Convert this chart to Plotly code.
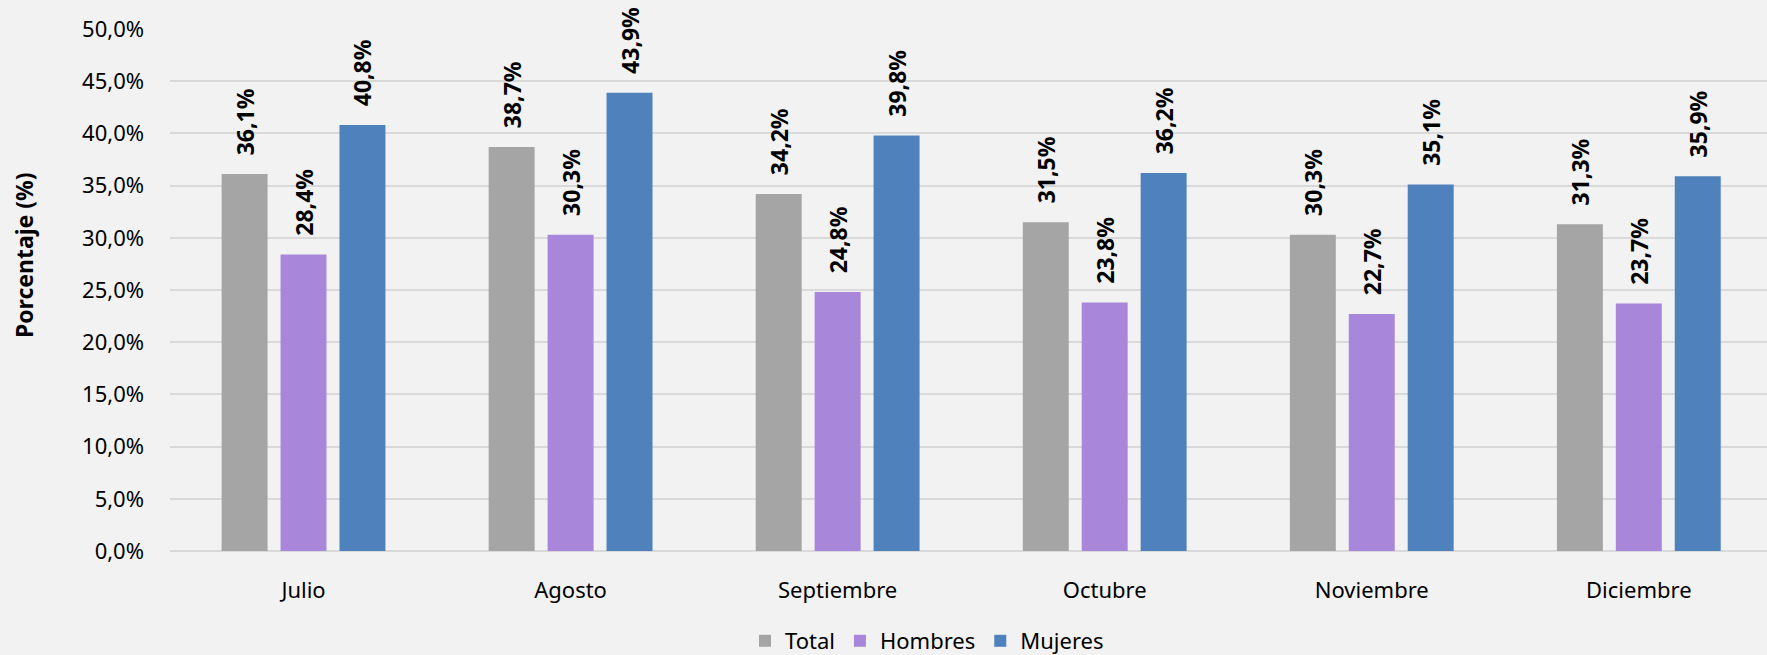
import plotly.graph_objects as go

months = ["Julio", "Agosto", "Septiembre", "Octubre", "Noviembre", "Diciembre"]
total = [36.1, 38.7, 34.2, 31.5, 30.3, 31.3]
hombres = [28.4, 30.3, 24.8, 23.8, 22.7, 23.7]
mujeres = [40.8, 43.9, 39.8, 36.2, 35.1, 35.9]
y_ticks = [0, 5, 10, 15, 20, 25, 30, 35, 40, 45, 50]
y_ticktext = [f"{v:.1f}".replace(".", ",") + "%" for v in y_ticks]

FONT = "Noto Sans, Open Sans, sans-serif"

def lab(vals):
    return ["\u00a0\u00a0\u2009" + f"{v:.1f}".replace(".", ",") + "%" for v in vals]

series = [
    ("Total", total, "#A5A5A5"),
    ("Hombres", hombres, "#A886DA"),
    ("Mujeres", mujeres, "#4F81BD"),
]

fig = go.Figure()
for name, vals, color in series:
    fig.add_trace(go.Bar(
        x=months, y=vals, name=name,
        marker=dict(color=color, line=dict(width=0)),
        text=lab(vals), textposition="outside", textangle=-90,
        textfont=dict(family=FONT, size=23, color="#000000", weight="bold"),
        cliponaxis=False, constraintext="none",
    ))

fig.update_layout(
    width=1767, height=655,
    paper_bgcolor="#F2F2F2", plot_bgcolor="#F2F2F2",
    margin=dict(l=170, r=0, t=29, b=104),
    barmode="group", bargap=0.338, bargroupgap=0.22,
    font=dict(family=FONT, size=22, color="#000000"),
    showlegend=True,
    legend=dict(orientation="h", x=0.474, xanchor="center",
                yref="container", y=1 - 641 / 655, yanchor="middle",
                font=dict(size=22), itemwidth=30, traceorder="normal",
                bgcolor="rgba(0,0,0,0)"),
    xaxis=dict(range=[-0.5, 5.48], showgrid=False, showline=False, ticks="",
               ticklabelstandoff=24, tickfont=dict(size=22)),
    yaxis=dict(range=[0, 50], tickvals=y_ticks, ticktext=y_ticktext,
               showgrid=True, gridcolor="#D9D9D9", gridwidth=1.5,
               zeroline=True, zerolinecolor="#D9D9D9", zerolinewidth=1.5,
               showline=False, ticks="", ticklabelstandoff=25, tickfont=dict(size=22)),
    annotations=[dict(text="<b>Porcentaje (%)</b>", xref="paper", yref="paper",
                      x=-0.0914, y=0.567, xanchor="center", yanchor="middle",
                      textangle=-90, showarrow=False, font=dict(size=23))],
)

fig.write_html("out.html", config={"displayModeBar": False},
               post_script="document.body.style.margin='0';document.body.style.overflow='hidden';")
